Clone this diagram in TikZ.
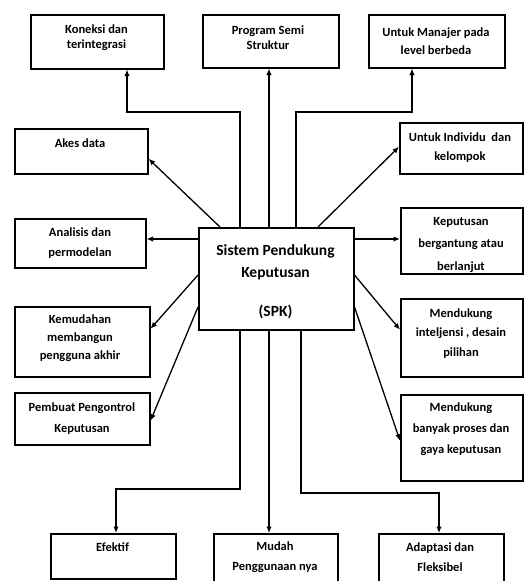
\documentclass[tikz,border=0pt]{standalone}
\usepackage{fontspec}
\setmainfont{Carlito}
\usetikzlibrary{arrows.meta}
\begin{document}
\begin{tikzpicture}[x=1pt,y=-1pt,
  box/.style={draw, line width=1.5pt, inner sep=0pt, anchor=north west},
  txt/.style={font=\bfseries\fontsize{12.5}{#1}\selectfont, align=center, inner sep=0pt},
  conn/.style={line width=1.3pt, -{Latex[length=6.5pt,width=5.5pt]}},
  thick conn/.style={line width=2.2pt, -{Latex[length=6.5pt,width=5.5pt]}}]
\fill[white] (0,0) rectangle (524,581);
\clip (0,0) rectangle (524,581);
% boxes
\node[box, minimum width=133pt, minimum height=54pt] (kon) at (30,14) {};
\node[box, minimum width=136pt, minimum height=53pt] (pro) at (202,14) {};
\node[box, minimum width=136pt, minimum height=53pt] (man) at (368,14) {};
\node[box, minimum width=133pt, minimum height=45pt] (akes) at (14,128) {};
\node[box, minimum width=123pt, minimum height=51pt] (ind) at (399,122) {};
\node[box, minimum width=131pt, minimum height=49pt] (ana) at (14,218) {};
\node[box, minimum width=155pt, minimum height=102pt] (spk) at (198,227) {};
\node[box, minimum width=122pt, minimum height=66pt] (kep) at (400,207) {};
\node[box, minimum width=135pt, minimum height=70pt] (kem) at (14,306) {};
\node[box, minimum width=122pt, minimum height=78pt] (int) at (400,298) {};
\node[box, minimum width=135pt, minimum height=52pt] (pem) at (14,392) {};
\node[box, minimum width=122pt, minimum height=86pt] (ban) at (400,394) {};
\node[box, minimum width=125pt, minimum height=45pt] (efe) at (50,533) {};
\node[box, minimum width=124pt, minimum height=60pt] (mud) at (213,533) {};
\node[box, minimum width=125pt, minimum height=60pt] (ada) at (378,533) {};
% texts
\node[txt=15pt] (konT) at (96.5,37.5) {Koneksi dan\\terintegrasi};
\node[txt=15pt] (proT) at (268,37.5) {Program Semi\\Struktur};
\node[txt=18pt] (manT) at (436,41) {Untuk Manajer pada\\level berbeda};
\node[txt=15pt] (akesT) at (80,143) {Akes data};
\node[txt=19pt] (indT) at (460,147.5) {Untuk Individu~ dan\\kelompok};
\node[txt=20pt] (anaT) at (80,243) {Analisis dan\\permodelan};
\node[txt=22.5pt] (kepT) at (461,244.5) {Keputusan\\bergantung atau\\berlanjut};
\node[txt=18pt] (kemT) at (80,338) {Kemudahan\\membangun\\pengguna akhir};
\node[txt=19.5pt] (intT) at (461,333.5) {Mendukung\\inteljensi , desain\\pilihan};
\node[txt=21pt] (pemT) at (82,418.5) {Pembuat Pengontrol\\Keputusan};
\node[txt=21pt] (banT) at (461,429) {Mendukung\\banyak proses dan\\gaya keputusan};
\node[txt=15pt] (efeT) at (112.5,547) {Efektif};
\node[txt=20pt] (mudT) at (275,557) {Mudah\\Penggunaan nya};
\node[txt=20pt] (adaT) at (440,557) {Adaptasi dan\\Fleksibel};
\node[font=\bfseries\fontsize{15.5}{22}\selectfont, align=center, inner sep=0pt] (spkT) at (275.5,282) {Sistem Pendukung\\Keputusan\\[17pt](SPK)};
% bend points
\coordinate (k1) at (127,112);
\coordinate (m1) at (412,112);
\coordinate (e1) at (116,489);
\coordinate (a1) at (439,493);
% connectors
\draw[conn] ([xshift=42pt]spk.north west) |- (k1) -- (k1 |- kon.south);
\draw[conn] ([xshift=71pt]spk.north west) -- ([xshift=71pt]spk.north west |- pro.south);
\draw[conn] ([xshift=98pt]spk.north west) |- (m1) -- (m1 |- man.south);
\draw[conn] ([xshift=22pt]spk.north west) -- ([yshift=-7.5pt]akes.east);
\draw[conn] ([xshift=120pt]spk.north west) -- ([yshift=1.5pt]ind.west);
\draw[conn] ([yshift=-12pt]spk.north west) -- ([yshift=-12pt]spk.north west -| ana.east);
\draw[thick conn] ([yshift=-12pt]spk.north east) -- ([yshift=-12pt]spk.north east -| kep.west);
\draw[conn] ([yshift=-48pt]spk.north west) -- ([yshift=13pt]kem.east);
\draw[conn] ([yshift=-48pt]spk.north east) -- ([yshift=8pt]int.west);
\draw[conn] ([yshift=-80pt]spk.north west) -- ([yshift=-2pt]pem.east);
\draw[conn] ([yshift=-80pt]spk.north east) -- ([yshift=-3pt]ban.west);
\draw[conn] ([xshift=42pt]spk.south west) |- (e1) -- (e1 |- efe.north);
\draw[conn] ([xshift=56pt]mud.north west |- spk.south) -- ([xshift=56pt]mud.north west);
\draw[conn] ([xshift=103pt]spk.south west) |- (a1) -- (a1 |- ada.north);
\end{tikzpicture}
\end{document}
